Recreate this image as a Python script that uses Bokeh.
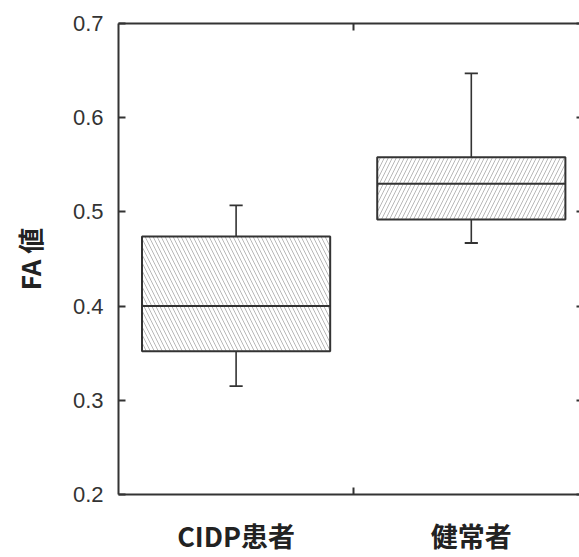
from bokeh.plotting import figure
from bokeh.models import Range1d, LinearAxis, FixedTicker, ColumnDataSource
from bokeh.embed import file_html
from bokeh.resources import INLINE

# data
categories = ["CIDP患者", "健常者"]
xpos = [1, 2]
lower = [0.315, 0.467]
q1 = [0.352, 0.492]
median = [0.400, 0.530]
q3 = [0.474, 0.558]
upper = [0.507, 0.647]
yticks = [0.2, 0.3, 0.4, 0.5, 0.6, 0.7]
hatches = ["\\", "/"]

box_w = 0.8
cap_w = 0.056
ink = "#333333"

W, H = 579, 557
p = figure(width=W, height=H, output_backend="svg", toolbar_location=None,
           x_range=Range1d(0.5, 2.46), y_range=Range1d(0.2, 0.7),
           x_axis_location=None, y_axis_location=None,
           min_border_left=118, min_border_top=23, min_border_right=0,
           min_border_bottom=58)
p.outline_line_color = None
p.grid.visible = False
p.background_fill_color = "white"
p.border_fill_color = "white"

src = ColumnDataSource(dict(
    x=xpos, lower=lower, q1=q1, median=median, q3=q3, upper=upper, hatch=hatches,
    left=[x - box_w / 2 for x in xpos], right=[x + box_w / 2 for x in xpos],
    cl=[x - cap_w / 2 for x in xpos], cr=[x + cap_w / 2 for x in xpos],
))

# whiskers
p.segment(x0="x", x1="x", y0="q3", y1="upper", source=src, line_color=ink, line_width=1.6)
p.segment(x0="x", x1="x", y0="q1", y1="lower", source=src, line_color=ink, line_width=1.6)
p.segment(x0="cl", x1="cr", y0="upper", y1="upper", source=src, line_color=ink, line_width=1.8)
p.segment(x0="cl", x1="cr", y0="lower", y1="lower", source=src, line_color=ink, line_width=1.8)
# boxes
p.quad(left="left", right="right", bottom="q1", top="q3", source=src,
       fill_color="white", line_color=ink, line_width=2,
       hatch_pattern="hatch", hatch_color="#9a9a9a", hatch_weight=0.7, hatch_scale=8)
p.segment(x0="left", x1="right", y0="median", y1="median", source=src, line_color=ink, line_width=2)

def style(ax):
    ax.axis_line_color = ink
    ax.axis_line_width = 2
    ax.major_tick_line_color = ink
    ax.major_tick_line_width = 2
    ax.minor_tick_line_color = ink
    ax.minor_tick_line_width = 2

# left axis
la = LinearAxis(ticker=FixedTicker(ticks=yticks, minor_ticks=[]))
style(la)
la.major_tick_in = 7
la.major_tick_out = 0
la.major_label_standoff = 15
la.major_label_text_font = "Liberation Sans"
la.major_label_text_font_size = "22px"
la.major_label_text_color = ink
la.major_label_overrides = {t: f"{t:.1f}" for t in yticks}
la.axis_label = "FA 値"
la.axis_label_text_font = "Noto Sans CJK JP"
la.axis_label_text_font_style = "bold"
la.axis_label_text_font_size = "26px"
la.axis_label_text_color = "#222222"
la.axis_label_standoff = 22
p.add_layout(la, "left")

# right axis (tick marks only, drawn as minor ticks so no labels exist)
ra = LinearAxis(ticker=FixedTicker(ticks=[], minor_ticks=yticks))
style(ra)
ra.axis_line_color = None
ra.minor_tick_in = 3
ra.minor_tick_out = 0
ra.major_label_standoff = 0
p.add_layout(ra, "right")

# bottom axis
ba = LinearAxis(ticker=FixedTicker(ticks=xpos, minor_ticks=[1.5]))
style(ba)
ba.major_tick_line_color = None
ba.minor_tick_in = 7
ba.minor_tick_out = 0
ba.major_label_overrides = {x: c for x, c in zip(xpos, categories)}
ba.major_label_standoff = 15
ba.major_label_text_font = "Noto Sans CJK JP"
ba.major_label_text_font_style = "bold"
ba.major_label_text_font_size = "27px"
ba.major_label_text_color = "#222222"
p.add_layout(ba, "below")

# top axis
ta = LinearAxis(ticker=FixedTicker(ticks=[], minor_ticks=[1.5]))
style(ta)
ta.minor_tick_in = 7
ta.minor_tick_out = 0
ta.major_label_standoff = 0
p.add_layout(ta, "above")

open("out.html", "w").write(file_html(p, INLINE))
